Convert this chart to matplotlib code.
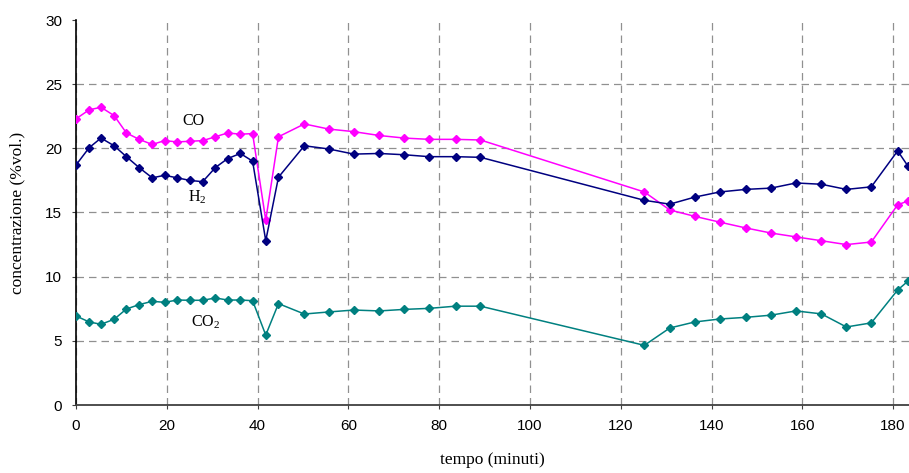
import numpy as np
import matplotlib.pyplot as plt

plt.rcParams['font.family'] = ['Liberation Sans', 'DejaVu Sans']
plt.rcParams['mathtext.fontset'] = 'custom'
plt.rcParams['mathtext.rm'] = 'Liberation Serif'

# tempi (minuti) e concentrazioni (%vol.)
t = [0, 2.9, 5.5, 8.4, 11.1, 13.9, 16.8, 19.5, 22.3, 25.1, 27.9, 30.7, 33.4, 36.2, 38.9,
     41.8, 44.6, 50.3, 55.7, 61.2, 66.8, 72.3, 77.8, 83.6, 89.1,
     125.2, 130.8, 136.3, 141.8, 147.5, 153.1, 158.6, 164.2, 169.7, 175.2, 181.0, 183.3]

co = [22.3, 23.0, 23.2, 22.55, 21.2, 20.7, 20.3, 20.6, 20.5, 20.55, 20.6, 20.9, 21.2, 21.1, 21.15,
      14.4, 20.9, 21.9, 21.5, 21.3, 21.0, 20.8, 20.7, 20.7, 20.65,
      16.6, 15.2, 14.7, 14.25, 13.8, 13.4, 13.1, 12.8, 12.5, 12.7, 15.6, 15.9]

h2 = [18.7, 20.05, 20.8, 20.2, 19.35, 18.5, 17.7, 17.9, 17.7, 17.5, 17.4, 18.5, 19.2, 19.6, 19.0,
      12.8, 17.75, 20.2, 19.95, 19.55, 19.6, 19.5, 19.35, 19.35, 19.3,
      15.95, 15.65, 16.2, 16.6, 16.8, 16.9, 17.3, 17.2, 16.8, 17.0, 19.8, 18.6]

co2 = [6.94, 6.47, 6.29, 6.68, 7.48, 7.82, 8.08, 8.0, 8.18, 8.16, 8.16, 8.34, 8.18, 8.18, 8.13,
       5.45, 7.9, 7.09, 7.25, 7.4, 7.33, 7.45, 7.53, 7.7, 7.7,
       4.65, 6.0, 6.47, 6.7, 6.83, 7.0, 7.33, 7.1, 6.08, 6.4, 8.96, 9.66]

W, H = 909, 473
fig = plt.figure(figsize=(W / 100, H / 100), dpi=100)
ax = fig.add_axes([76 / W, 1 - 405 / H, 1 - 76 / W, 385 / H])

ax.plot(t, co, color='#FF00FF', lw=1.1, marker='D', ms=4.5, zorder=3)
ax.plot(t, h2, color='#000080', lw=1.1, marker='D', ms=4.5, zorder=3)
ax.plot(t, co2, color='#008080', lw=1.1, marker='D', ms=4.5, zorder=3)

serif = 'Liberation Serif'
fig.text(193 / W, 1 - 121 / H, 'CO', fontsize=11.5, family=serif, ha='center', va='center')
fig.text(197 / W, 1 - 197 / H, 'H$_2$', fontsize=11.5, family=serif, ha='center', va='center')
fig.text(206 / W, 1 - 322 / H, 'CO$_2$', fontsize=11.5, family=serif, ha='center', va='center')

ax.set_xlim(0, 183.5)
ax.set_ylim(0, 30)
ax.set_xticks(np.arange(0, 181, 20))
ax.set_yticks(np.arange(0, 31, 5))
ax.grid(True, color='#909090', linestyle=(0, (6, 4)), lw=0.9)
ax.get_ygridlines()[-1].set_visible(False)
ax.get_ygridlines()[0].set_visible(False)

for s in ['top', 'right']:
    ax.spines[s].set_visible(False)
ax.spines['left'].set_linewidth(1.2)
ax.spines['bottom'].set_linewidth(1.3)
ax.spines['bottom'].set_color('#404040')

ax.tick_params(direction='out', length=3, labelsize=11, pad=7, color='#404040')

ax.set_xlabel('tempo (minuti)', family=serif, fontsize=12.5, labelpad=14)
ax.set_ylabel('concentrazione (%vol.)', family=serif, fontsize=12.5, labelpad=14)

fig.savefig('out.png', dpi=100)
